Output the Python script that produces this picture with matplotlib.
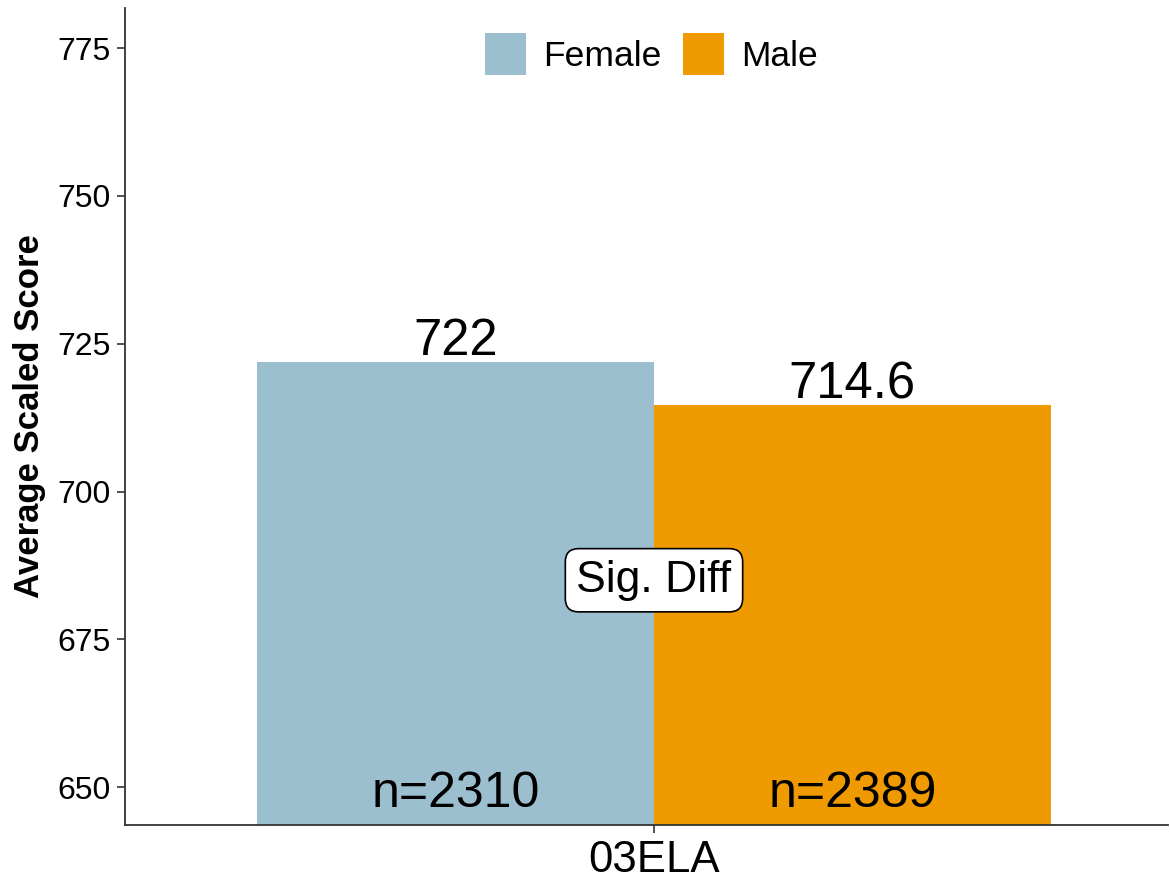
import matplotlib
matplotlib.use("Agg")
import matplotlib.pyplot as plt
from matplotlib.patches import Patch

plt.rcParams['font.family'] = ['Liberation Sans', 'DejaVu Sans']

category = "03ELA"
groups = ["Female", "Male"]
scores = [722.0, 714.6]
value_labels = ["722", "714.6"]
counts = [2310, 2389]
colors = ["#9BBFCE", "#EE9A00"]
sig_label = "Sig. Diff"
yticks = [650, 675, 700, 725, 750, 775]

fig = plt.figure(figsize=(11.7, 8.8), dpi=100)
ax = fig.add_axes([125/1170, 1-825/880, (1168-125)/1170, (825-8)/880])

width = 0.45
xs = [1 - width/2, 1 + width/2]
base = 600
for x, s, c in zip(xs, scores, colors):
    ax.bar(x, s - base, bottom=base, width=width, color=c, edgecolor='none')

for x, s, lab in zip(xs, scores, value_labels):
    ax.annotate(lab, (x, s), xytext=(0, 5), textcoords='offset points',
                ha='center', va='baseline', fontsize=36.5, color='black')

for x, n in zip(xs, counts):
    ax.text(x, 646.6, f"n={n}", ha='center', va='baseline', fontsize=36, color='black')

ax.text(1, 685, sig_label, ha='center', va='center', fontsize=32,
        bbox=dict(boxstyle='round,pad=0.25,rounding_size=0.3', fc='white', ec='black', lw=1.2))

ax.set_xlim(0.4, 1.583)
ax.set_ylim(643.6, 781.8)
ax.set_xticks([1])
ax.set_xticklabels([category], fontsize=31.5)
ax.set_yticks(yticks)
ax.set_yticklabels([str(t) for t in yticks], fontsize=23)
ax.tick_params(axis='both', colors='#333333', length=5.5, width=1.2, labelcolor='black')
ax.tick_params(axis='y', pad=5)
ax.tick_params(axis='x', pad=5)
ax.set_ylabel("Average Scaled Score", fontsize=25, fontweight='bold', labelpad=8)

for sp in ['top', 'right']:
    ax.spines[sp].set_visible(False)
for sp in ['left', 'bottom']:
    ax.spines[sp].set_color('#333333')
    ax.spines[sp].set_linewidth(1.3)

handles = [Patch(facecolor=c, edgecolor='none', label=g) for g, c in zip(groups, colors)]
leg = ax.legend(handles=handles, loc='upper center', bbox_to_anchor=(0.505, 1.0), ncol=2,
                frameon=False, fontsize=25.5, handlelength=1.15, handleheight=1.45,
                handletextpad=0.5, columnspacing=0.6, borderaxespad=0.3)

fig.savefig("out.png", dpi=100, facecolor='white')
